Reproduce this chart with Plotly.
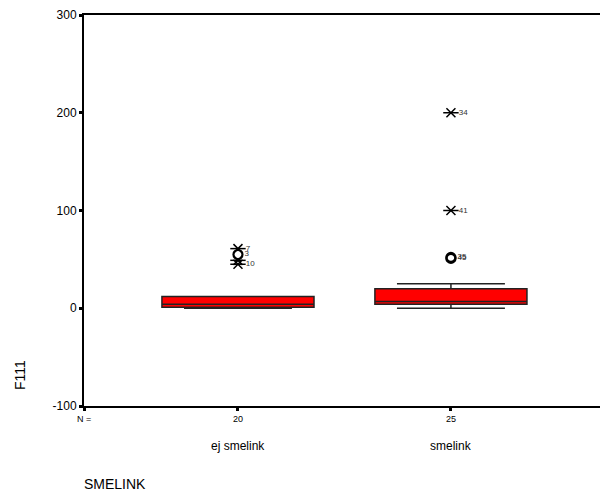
import plotly.graph_objects as go

# Group summaries for F111 by SMELINK
groups = ["ej smelink", "smelink"]
group_pos = [0, 1]
n_counts = [20, 25]
q1 = [1, 4]
median = [4, 7]
q3 = [12, 20]
lower_fence = [0, 0]
upper_fence = [12, 25]

# Extreme values (stars) and outliers (circles) with case labels
extreme_x = [0, 0, 0, 1, 1]
extreme_y = [61, 49, 45, 200, 100]
extreme_lbl = ["7", "", "10", "34", "41"]

outlier_x = [0, 1, 1]
outlier_y = [55, 51, 52]
outlier_lbl = ["3", "45", "35"]

y_ticks = [-100, 0, 100, 200, 300]

FONT = "Liberation Sans, Arial, sans-serif"
W, H = 600, 501
ML, MR, MT, MB = 84, 0, 15, 95
plot_w = W - ML - MR
plot_h = H - MT - MB


def ypix(py):
    return (H - MB - py) / plot_h


def xpix(px):
    return (px - ML) / plot_w


fig = go.Figure()

for i, g in enumerate(groups):
    fig.add_trace(go.Box(
        x=[group_pos[i]], q1=[q1[i]], median=[median[i]], q3=[q3[i]],
        lowerfence=[lower_fence[i]], upperfence=[upper_fence[i]],
        width=0.714, whiskerwidth=0.71, boxpoints=False,
        fillcolor="#ff0000", line=dict(color="#222222", width=1.5),
        name=g, showlegend=False, hoverinfo="skip",
    ))

# star = x plus horizontal bar
fig.add_trace(go.Scatter(
    x=extreme_x, y=extreme_y, mode="markers",
    marker=dict(symbol="x-thin-open", size=9, color="black",
                line=dict(color="black", width=1.5)),
    showlegend=False, hoverinfo="skip",
))
fig.add_trace(go.Scatter(
    x=extreme_x, y=extreme_y, mode="markers+text",
    marker=dict(symbol="line-ew-open", size=11, color="black",
                line=dict(color="black", width=1.5)),
    text=extreme_lbl, textposition="middle right",
    textfont=dict(family=FONT, size=8, color="#333333"),
    showlegend=False, hoverinfo="skip",
))
fig.add_trace(go.Scatter(
    x=outlier_x, y=outlier_y, mode="markers+text",
    marker=dict(symbol="circle-open", size=9, color="black",
                line=dict(color="black", width=2.2)),
    text=outlier_lbl, textposition="middle right",
    textfont=dict(family=FONT, size=8, color="#333333"),
    showlegend=False, hoverinfo="skip",
))

x_left = -0.723
fig.update_xaxes(
    range=[x_left, 1.70], showgrid=False, zeroline=False,
    showline=True, linecolor="black", linewidth=2, mirror=True,
    tickmode="array", tickvals=[x_left] + group_pos,
    ticktext=["N ="] + [str(n) for n in n_counts],
    ticks="outside", ticklen=3, tickwidth=3, tickcolor="black",
    tickfont=dict(family=FONT, size=9, color="black"),
)
fig.update_yaxes(
    range=[-100, 300], showgrid=False, zeroline=False,
    showline=True, linecolor="black", linewidth=2,
    tickmode="array", tickvals=y_ticks, ticktext=[str(v) for v in y_ticks],
    ticks="outside", ticklen=3, tickwidth=3, tickcolor="black",
    tickfont=dict(family=FONT, size=12, color="black"),
)

fig.update_layout(
    width=W, height=H,
    margin=dict(l=ML, r=MR, t=MT, b=MB),
    paper_bgcolor="white", plot_bgcolor="white",
    font=dict(family=FONT),
)

for i, g in enumerate(groups):
    fig.add_annotation(
        x=group_pos[i], y=ypix(446), xref="x", yref="paper", text=g,
        xanchor="center", yanchor="middle", showarrow=False,
        font=dict(family=FONT, size=12, color="black"),
    )
fig.add_annotation(x=xpix(82), y=ypix(484), xref="paper", yref="paper", text="SMELINK",
                   xanchor="left", yanchor="middle", showarrow=False,
                   font=dict(family=FONT, size=14, color="black"))
fig.add_annotation(x=xpix(20), y=ypix(375), xref="paper", yref="paper", text="F111",
                   xanchor="center", yanchor="middle", textangle=-90, showarrow=False,
                   font=dict(family=FONT, size=14, color="black"))

fig.write_html("out.html")
